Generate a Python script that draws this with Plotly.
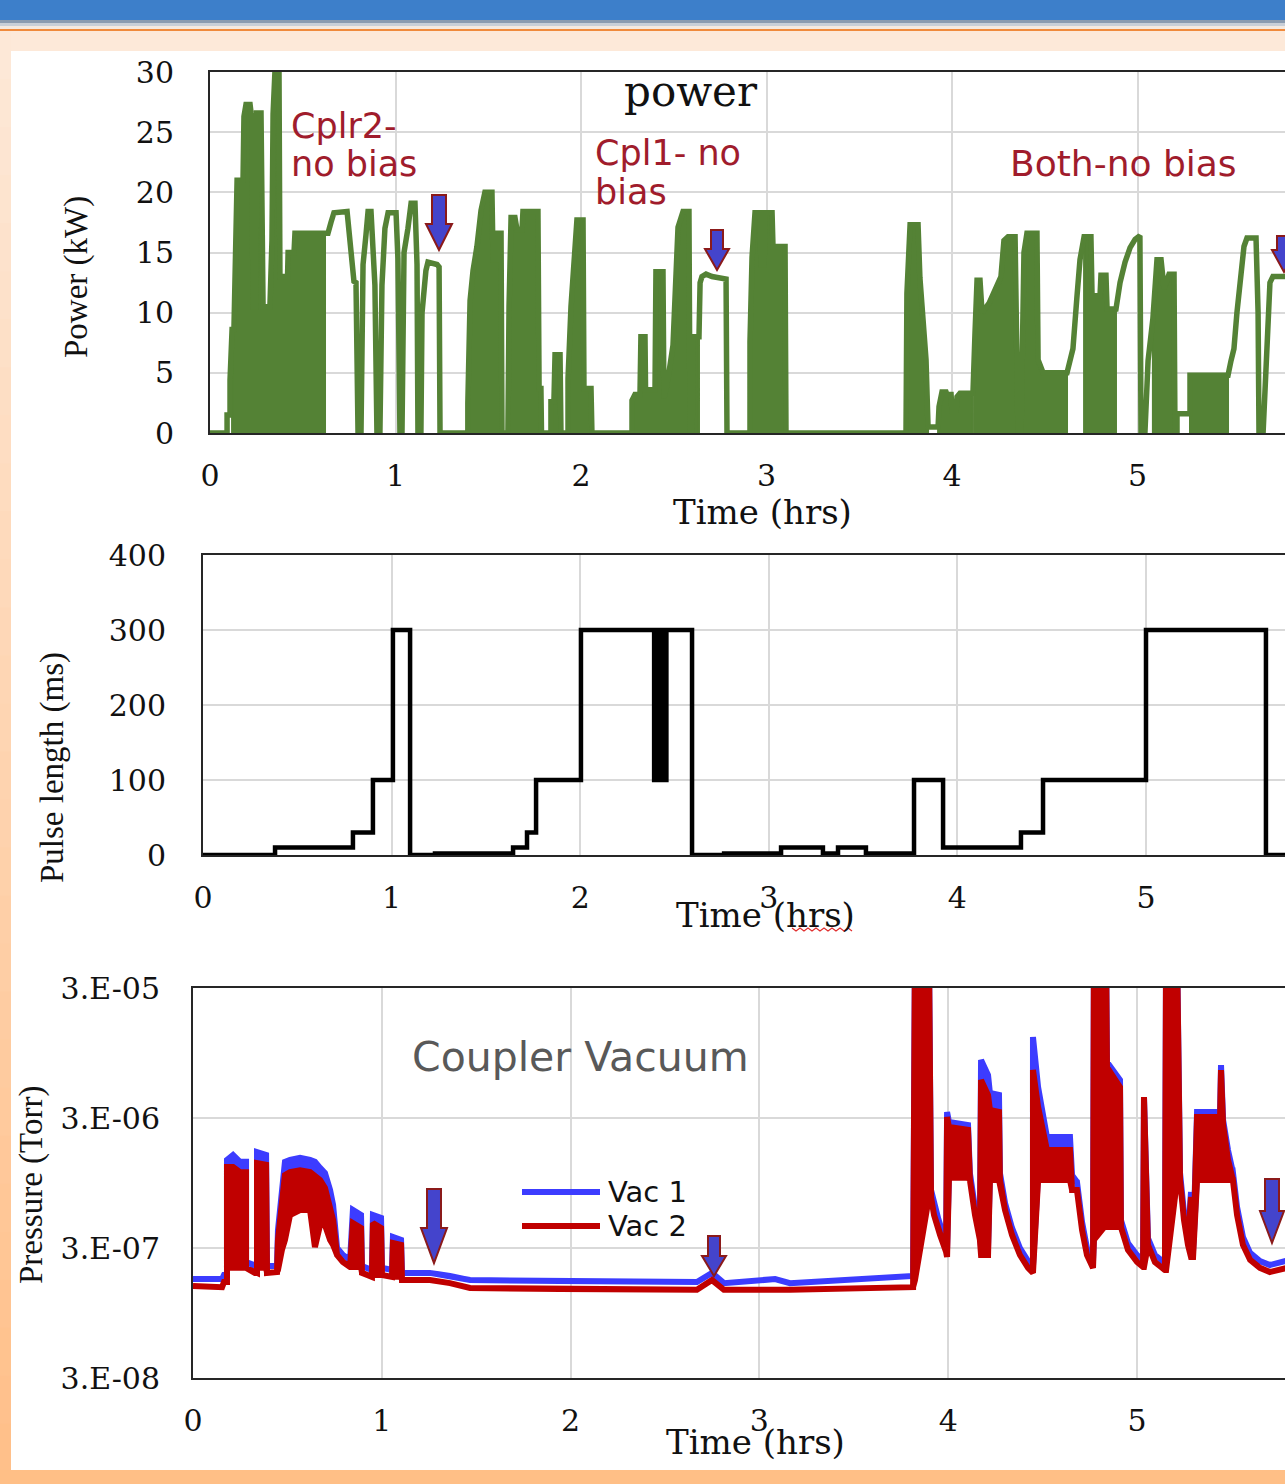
import math
import plotly.graph_objects as go

W, H = 1285, 1484

# ---------------- data ----------------
hour_ticks = [0, 1, 2, 3, 4, 5]

# Power (kW) vs time (hrs): outline of the trace, in runs
power_run1 = [(0.000, 0), (0.092, 0), (0.092, 1.5), (0.108, 1.5), (0.108, 4.4), (0.119, 8.6), (0.129, 8.6),
              (0.135, 15.5), (0.146, 21.0), (0.178, 21.0), (0.183, 26.3), (0.194, 27.3), (0.216, 27.3),
              (0.226, 26.0), (0.232, 10.5), (0.248, 10.5), (0.251, 26.6), (0.275, 26.6), (0.286, 10.5),
              (0.323, 10.5), (0.334, 16.0), (0.340, 26.5), (0.350, 30.0), (0.372, 30.0), (0.377, 13.0),
              (0.410, 13.0), (0.418, 13.0), (0.421, 15.0), (0.453, 15.0), (0.458, 16.6), (0.620, 16.6),
              (0.636, 16.6), (0.652, 17.5), (0.668, 18.3), (0.739, 18.4), (0.755, 16.0), (0.765, 14.5),
              (0.776, 12.6), (0.787, 12.5), (0.798, 0), (0.814, 0), (0.825, 14.0), (0.841, 16.5),
              (0.852, 18.4), (0.868, 18.4), (0.879, 15.0), (0.889, 12.3), (0.900, 0), (0.916, 0),
              (0.927, 12.3), (0.943, 17.0), (0.960, 18.3), (1.003, 18.3), (1.013, 14.5), (1.024, 0),
              (1.035, 0), (1.046, 15.0), (1.067, 17.0), (1.084, 19.1), (1.105, 19.1), (1.116, 14.0),
              (1.121, 0), (1.137, 0), (1.143, 10.0), (1.154, 12.6), (1.164, 13.5), (1.175, 14.2),
              (1.224, 14.0), (1.235, 13.8), (1.240, 0)]
power_run2 = [(1.390, 0), (1.390, 2.5), (1.402, 11.0), (1.418, 13.5), (1.439, 15.5), (1.461, 18.5),
              (1.482, 20.0), (1.520, 20.0), (1.526, 14.4), (1.542, 14.4), (1.547, 16.6), (1.569, 16.6),
              (1.574, 0), (1.606, 0), (1.612, 10.5), (1.623, 17.9), (1.644, 17.9), (1.655, 16.9),
              (1.682, 16.9), (1.687, 18.4), (1.768, 18.4), (1.774, 3.7), (1.784, 3.7), (1.787, 0),
              (1.838, 0), (1.838, 2.6), (1.854, 2.6), (1.860, 6.5), (1.887, 6.5), (1.892, 0),
              (1.930, 0), (1.930, 4.5), (1.946, 10.5), (1.968, 16.3), (1.978, 17.7), (2.011, 17.7),
              (2.016, 3.7), (2.054, 3.7), (2.059, 0)]
power_run3 = [(2.275, 0), (2.275, 2.7), (2.291, 3.2), (2.318, 3.2), (2.323, 8.0), (2.345, 8.0),
              (2.348, 3.6), (2.399, 3.6), (2.404, 13.4), (2.442, 13.4), (2.447, 2.9), (2.469, 4.5),
              (2.496, 7.3), (2.512, 15.0), (2.523, 17.1), (2.550, 18.4), (2.582, 18.4), (2.588, 0),
              (2.599, 0), (2.604, 8.0), (2.636, 8.0), (2.642, 12.5), (2.652, 13.0), (2.674, 13.2),
              (2.706, 13.0), (2.782, 12.8), (2.787, 0), (2.911, 0), (2.911, 7.6), (2.922, 14.6),
              (2.938, 18.3), (2.965, 18.3), (2.970, 14.0), (2.987, 14.0), (2.992, 18.3), (3.030, 18.3),
              (3.035, 15.5), (3.100, 15.5), (3.105, 0)]
power_run4 = [(3.752, 0), (3.752, 2.6), (3.757, 11.6), (3.774, 17.3), (3.817, 17.3), (3.827, 12.9),
              (3.844, 8.5), (3.860, 6.1), (3.871, 0.5), (3.925, 0.5), (3.930, 2.2), (3.946, 3.4),
              (3.968, 3.4), (3.973, 3.2), (3.995, 3.2), (4.000, 1.8), (4.022, 1.8), (4.027, 3.0),
              (4.043, 3.3), (4.113, 3.3), (4.124, 8.3), (4.135, 12.7), (4.151, 12.7), (4.162, 10.0),
              (4.200, 10.8), (4.264, 13.0), (4.280, 16.0), (4.302, 16.3), (4.340, 16.3), (4.345, 9.0),
              (4.356, 0), (4.372, 0), (4.377, 8.5), (4.388, 15.0), (4.404, 16.6), (4.458, 16.6),
              (4.464, 6.1), (4.491, 5.0), (4.620, 5.0)]
power_run5 = [(4.625, 5.3), (4.652, 7.0), (4.674, 11.4), (4.690, 14.4), (4.712, 16.3), (4.749, 16.3),
              (4.755, 11.4), (4.798, 11.4), (4.803, 13.1), (4.830, 13.1), (4.836, 10.3), (4.884, 10.3),
              (4.906, 12.5), (4.933, 14.2), (4.960, 15.4), (4.987, 16.1), (5.013, 16.4), (5.019, 0),
              (5.040, 0), (5.057, 6.0), (5.083, 9.5), (5.105, 14.4), (5.127, 14.4), (5.143, 12.0),
              (5.170, 13.2), (5.197, 13.2), (5.202, 0), (5.213, 0), (5.213, 1.6), (5.283, 1.6),
              (5.283, 4.8), (5.488, 4.8), (5.504, 6.0), (5.520, 7.0), (5.536, 10.0), (5.553, 13.0),
              (5.574, 15.5), (5.590, 16.2), (5.639, 16.2), (5.650, 10.0), (5.655, 0), (5.677, 0),
              (5.687, 3.0), (5.704, 8.0), (5.714, 12.5), (5.730, 13.0), (5.820, 13.0)]
# time spans where the power trace pulses so fast that it reads as solid
power_dense_spans = [(0.119, 0.620), (1.390, 1.574), (1.606, 1.787), (1.838, 1.892), (1.930, 2.059),
                     (2.275, 2.636), (2.911, 3.105), (3.752, 3.871), (3.925, 4.113), (4.124, 4.345),
                     (4.372, 4.620), (4.712, 4.884), (5.083, 5.202), (5.283, 5.488)]
power_yticks = [0, 5, 10, 15, 20, 25, 30]

# Pulse length (ms): step values starting at each time
pulse_t = [0.000, 0.382, 0.795, 0.901, 1.007, 1.098, 1.230, 1.644, 1.718, 1.766, 2.004, 2.392, 2.405,
           2.418, 2.431, 2.444, 2.457, 2.593, 2.763, 3.065, 3.287, 3.367, 3.515, 3.770, 3.924, 4.337,
           4.454, 5.000, 5.636, 5.800]
pulse_ms = [0, 10, 30, 100, 300, 0, 2, 10, 30, 100, 300, 100, 300, 100, 300, 100, 300, 0, 2, 10, 2, 10,
            2, 100, 10, 30, 100, 300, 0, 0]
pulse_yticks = [0, 100, 200, 300, 400]

# Coupler vacuum (Torr): (time, Vac2 high, Vac2 low, Vac1 high, Vac1 low) envelopes
vac_early = [
    (0.000, 1.53e-7, 1.53e-7, 1.73e-7, 1.73e-7), (0.154, 1.50e-7, 1.50e-7, 1.73e-7, 1.73e-7),
    (0.164, 1.64e-7, 1.64e-7, 1.86e-7, 1.86e-7), (0.180, 1.64e-7, 1.64e-7, 1.86e-7, 1.86e-7),
    (0.180, 1.26e-6, 2.11e-7, 1.43e-6, 2.34e-7), (0.212, 1.26e-6, 2.11e-7, 1.56e-6, 2.34e-7),
    (0.249, 1.15e-6, 2.11e-7, 1.38e-6, 2.34e-7), (0.281, 1.15e-6, 2.11e-7, 1.38e-6, 2.34e-7),
    (0.281, 2.11e-7, 2.11e-7, 2.34e-7, 2.34e-7), (0.328, 1.93e-7, 1.93e-7, 2.18e-7, 2.18e-7),
    (0.339, 1.93e-7, 1.93e-7, 2.18e-7, 2.18e-7), (0.339, 1.35e-6, 2.11e-7, 1.64e-6, 2.34e-7),
    (0.387, 1.31e-6, 2.11e-7, 1.56e-6, 2.34e-7), (0.392, 1.93e-7, 1.93e-7, 2.18e-7, 2.18e-7),
    (0.445, 1.96e-7, 1.96e-7, 2.18e-7, 2.18e-7), (0.450, 3.46e-7, 2.03e-7, 4.12e-7, 2.34e-7),
    (0.471, 7.02e-7, 2.90e-7, 9.16e-7, 3.17e-7), (0.487, 1.09e-6, 3.46e-7, 1.38e-6, 3.78e-7),
    (0.514, 1.15e-6, 5.38e-7, 1.43e-6, 5.88e-7), (0.567, 1.19e-6, 5.88e-7, 1.48e-6, 6.42e-7),
    (0.620, 1.15e-6, 5.88e-7, 1.43e-6, 6.42e-7), (0.646, 1.09e-6, 3.05e-7, 1.38e-6, 3.46e-7),
    (0.673, 1.00e-6, 4.51e-7, 1.24e-6, 4.92e-7), (0.699, 8.68e-7, 4.51e-7, 1.13e-6, 4.92e-7),
    (0.726, 6.42e-7, 3.46e-7, 8.38e-7, 3.78e-7), (0.742, 4.92e-7, 3.17e-7, 6.42e-7, 3.46e-7),
    (0.763, 2.65e-7, 2.65e-7, 3.00e-7, 3.00e-7), (0.794, 2.34e-7, 2.34e-7, 2.65e-7, 2.65e-7),
    (0.832, 2.14e-7, 2.14e-7, 2.43e-7, 2.43e-7), (0.847, 4.67e-7, 2.14e-7, 5.88e-7, 2.43e-7),
    (0.890, 4.28e-7, 2.14e-7, 5.38e-7, 2.43e-7), (0.895, 1.93e-7, 1.93e-7, 2.18e-7, 2.18e-7),
    (0.948, 1.80e-7, 1.80e-7, 2.03e-7, 2.03e-7), (0.953, 4.67e-7, 1.86e-7, 5.38e-7, 2.11e-7),
    (0.996, 4.28e-7, 1.86e-7, 5.11e-7, 2.11e-7), (1.001, 1.86e-7, 1.86e-7, 2.11e-7, 2.11e-7),
    (1.054, 1.80e-7, 1.80e-7, 2.03e-7, 2.03e-7), (1.059, 3.28e-7, 1.80e-7, 3.65e-7, 2.03e-7),
    (1.102, 3.17e-7, 1.80e-7, 3.46e-7, 2.03e-7), (1.107, 1.70e-7, 1.70e-7, 1.93e-7, 1.93e-7),
]
vac_quiet = [
    (1.255, 1.70e-7, 1.70e-7, 1.93e-7, 1.93e-7), (1.361, 1.61e-7, 1.61e-7, 1.83e-7, 1.83e-7),
    (1.467, 1.48e-7, 1.48e-7, 1.70e-7, 1.70e-7), (1.944, 1.45e-7, 1.45e-7, 1.67e-7, 1.67e-7),
    (2.669, 1.43e-7, 1.43e-7, 1.64e-7, 1.64e-7), (2.749, 1.70e-7, 1.70e-7, 1.93e-7, 1.93e-7),
    (2.812, 1.43e-7, 1.43e-7, 1.61e-7, 1.61e-7), (3.083, 1.43e-7, 1.43e-7, 1.73e-7, 1.73e-7),
    (3.162, 1.43e-7, 1.43e-7, 1.61e-7, 1.61e-7), (3.814, 1.50e-7, 1.50e-7, 1.83e-7, 1.83e-7),
]
vac_late = [
    (3.824, 6e-5, 1.70e-7, 6e-5, 1.93e-7), (3.898, 6e-5, 7.40e-7, 6e-5, 8.38e-7),
    (3.909, 7.40e-7, 7.40e-7, 8.38e-7, 8.38e-7), (3.925, 5.38e-7, 5.38e-7, 6.42e-7, 6.42e-7),
    (3.957, 3.78e-7, 3.78e-7, 4.43e-7, 4.43e-7), (3.989, 2.79e-7, 2.79e-7, 3.22e-7, 3.22e-7),
    (3.994, 3.05e-6, 2.56e-7, 3.34e-6, 3.00e-7), (4.004, 2.56e-6, 1.04e-6, 2.80e-6, 1.13e-6),
    (4.105, 2.43e-6, 1.04e-6, 2.65e-6, 1.13e-6), (4.115, 1.00e-6, 1.00e-6, 1.13e-6, 1.13e-6),
    (4.142, 5.38e-7, 5.38e-7, 6.09e-7, 6.09e-7), (4.168, 3.46e-7, 3.46e-7, 3.91e-7, 3.91e-7),
    (4.174, 5.88e-6, 2.65e-7, 8.38e-6, 3.00e-7), (4.211, 4.51e-6, 2.65e-7, 6.42e-6, 3.00e-7),
    (4.221, 3.46e-6, 1.00e-6, 4.67e-6, 1.09e-6), (4.269, 3.34e-6, 1.00e-6, 4.51e-6, 1.09e-6),
    (4.274, 1.00e-6, 1.00e-6, 1.13e-6, 1.13e-6), (4.301, 5.88e-7, 5.88e-7, 6.66e-7, 6.66e-7),
    (4.338, 3.78e-7, 3.78e-7, 4.28e-7, 4.28e-7), (4.380, 2.65e-7, 2.65e-7, 3.00e-7, 3.00e-7),
    (4.423, 2.11e-7, 2.11e-7, 2.38e-7, 2.38e-7), (4.449, 1.93e-7, 1.93e-7, 2.18e-7, 2.18e-7),
    (4.449, 7.02e-6, 1.93e-7, 1.26e-5, 2.18e-7), (4.476, 3.65e-6, 1.00e-6, 5.19e-6, 1.09e-6),
    (4.523, 1.70e-6, 1.00e-6, 2.14e-6, 1.09e-6), (4.645, 1.70e-6, 1.00e-6, 2.14e-6, 1.09e-6),
    (4.656, 8.38e-7, 8.38e-7, 1.09e-6, 1.00e-6), (4.682, 8.38e-7, 8.38e-7, 9.66e-7, 9.66e-7),
    (4.709, 4.12e-7, 4.12e-7, 4.75e-7, 4.75e-7), (4.735, 2.65e-7, 2.65e-7, 3.00e-7, 3.00e-7),
    (4.767, 2.11e-7, 2.11e-7, 2.38e-7, 2.38e-7), (4.772, 6e-5, 3.46e-7, 6e-5, 3.78e-7),
    (4.836, 6e-5, 4.51e-7, 6e-5, 4.92e-7), (4.841, 7.40e-6, 4.35e-7, 8.10e-6, 4.75e-7),
    (4.910, 5.19e-6, 4.35e-7, 5.88e-6, 4.75e-7), (4.915, 4.35e-7, 4.35e-7, 4.92e-7, 4.92e-7),
    (4.952, 2.90e-7, 2.90e-7, 3.28e-7, 3.28e-7), (5.000, 2.34e-7, 2.34e-7, 2.65e-7, 2.65e-7),
    (5.032, 2.14e-7, 2.14e-7, 2.43e-7, 2.43e-7), (5.037, 4.35e-6, 2.14e-7, 4.35e-6, 2.43e-7),
    (5.058, 3.17e-7, 3.17e-7, 3.58e-7, 3.58e-7), (5.095, 2.34e-7, 2.34e-7, 2.65e-7, 2.65e-7),
    (5.148, 2.03e-7, 2.03e-7, 2.30e-7, 2.30e-7), (5.154, 6e-5, 2.03e-7, 6e-5, 2.30e-7),
    (5.212, 6e-5, 1.00e-6, 6e-5, 1.09e-6), (5.217, 1.35e-5, 1.00e-6, 1.43e-5, 1.09e-6),
    (5.228, 1.00e-6, 1.00e-6, 1.13e-6, 1.13e-6), (5.249, 4.92e-7, 4.92e-7, 5.58e-7, 5.58e-7),
    (5.270, 3.17e-7, 3.17e-7, 3.58e-7, 3.58e-7), (5.286, 7.40e-7, 2.56e-7, 8.09e-7, 2.90e-7),
    (5.297, 2.56e-7, 2.56e-7, 2.90e-7, 2.90e-7), (5.318, 3.05e-6, 1.00e-6, 3.34e-6, 1.09e-6),
    (5.440, 3.05e-6, 1.00e-6, 3.34e-6, 1.09e-6), (5.445, 7.02e-6, 1.00e-6, 7.67e-6, 1.09e-6),
    (5.456, 2.65e-6, 1.00e-6, 2.90e-6, 1.09e-6), (5.482, 1.43e-6, 1.00e-6, 1.70e-6, 1.09e-6),
    (5.508, 1.00e-6, 1.00e-6, 1.15e-6, 1.15e-6), (5.530, 5.38e-7, 5.38e-7, 6.20e-7, 6.20e-7),
    (5.561, 3.17e-7, 3.17e-7, 3.65e-7, 3.65e-7), (5.599, 2.43e-7, 2.43e-7, 2.75e-7, 2.75e-7),
    (5.651, 2.11e-7, 2.11e-7, 2.38e-7, 2.38e-7), (5.704, 1.96e-7, 1.96e-7, 2.22e-7, 2.22e-7),
    (5.773, 2.11e-7, 2.11e-7, 2.38e-7, 2.38e-7), (5.810, 2.14e-7, 2.14e-7, 2.43e-7, 2.43e-7),
]
vac_yticks = [3e-8, 3e-7, 3e-6, 3e-5]
vac_yticktext = ["3.E-08", "3.E-07", "3.E-06", "3.E-05"]

# ---------------- helpers ----------------
def px(x):
    return x / W


def py(y):
    return 1 - y / H


GREEN = "#548235"
BLUE = "#3c3cff"
RED = "#c00000"
GRID = "#d9d9d9"
AXIS = "#262626"
DARKRED = "#a01c2c"
SERIF = "DejaVu Serif"
TNR = "Liberation Serif"
SANS = "DejaVu Sans"

fig = go.Figure()

# ---- power ----
power_pts = power_run1 + power_run2 + power_run3 + power_run4 + power_run5
for t0, t1 in power_dense_spans:
    seg = [(t, p) for t, p in power_pts if t0 <= t <= t1]
    xs = [t0] + [s[0] for s in seg] + [t1]
    ys = [0] + [s[1] for s in seg] + [0]
    fig.add_trace(go.Scatter(x=xs, y=ys, mode="lines", fill="toself", fillcolor=GREEN,
                             line=dict(color=GREEN, width=2), xaxis="x", yaxis="y",
                             showlegend=False, hoverinfo="skip"))
fig.add_trace(go.Scatter(x=[p[0] for p in power_pts], y=[p[1] for p in power_pts], mode="lines",
                         name="Power", line=dict(color=GREEN, width=5.5), xaxis="x", yaxis="y",
                         showlegend=False))

# ---- pulse length ----
fig.add_trace(go.Scatter(x=pulse_t, y=pulse_ms, mode="lines", name="Pulse length",
                         line=dict(color="black", width=4.5, shape="hv"), xaxis="x2", yaxis="y2",
                         showlegend=False))

# ---- vacuum ----
vac_rows = vac_early + vac_quiet + vac_late
vt = [r[0] for r in vac_rows]


def band(hi_i, lo_i):
    hi = [r[hi_i] for r in vac_rows]
    lo = [r[lo_i] for r in vac_rows]
    return vt + vt[::-1], hi + lo[::-1]


bx, by = band(3, 4)
fig.add_trace(go.Scatter(x=bx, y=by, mode="lines", fill="toself", fillcolor=BLUE, name="Vac 1",
                         line=dict(color=BLUE, width=6), xaxis="x3", yaxis="y3", showlegend=False))
rx, ry = band(1, 2)
fig.add_trace(go.Scatter(x=rx, y=ry, mode="lines", fill="toself", fillcolor=RED, name="Vac 2",
                         line=dict(color=RED, width=6), xaxis="x3", yaxis="y3", showlegend=False))

# ---------------- axes ----------------
tickfont = dict(family=SERIF, size=30, color="#111111")


def xax(left_px, span_hrs, anchor):
    return dict(domain=[px(left_px), 1], range=[0, span_hrs], anchor=anchor, tickvals=hour_ticks,
                showgrid=True, gridcolor=GRID, gridwidth=1.5, showline=True, linecolor=AXIS,
                linewidth=2, mirror=True, zeroline=False, ticks="", tickfont=tickfont,
                ticklabelstandoff=15, automargin=False)


def yax(top_px, bot_px, anchor, **kw):
    d = dict(domain=[py(bot_px), py(top_px)], anchor=anchor, showgrid=True, gridcolor=GRID,
             gridwidth=1.5, showline=True, linecolor=AXIS, linewidth=2, mirror=False,
             zeroline=False, ticks="", tickfont=tickfont, ticklabelstandoff=28, automargin=False)
    d.update(kw)
    return d


fig.update_layout(
    width=W, height=H, margin=dict(l=0, r=0, t=0, b=0, pad=0, autoexpand=False),
    paper_bgcolor="#fde9d9", plot_bgcolor="rgba(0,0,0,0)", showlegend=False,
    xaxis=xax(210, (W - 210) / 185.5, "y"),
    yaxis=yax(72, 433, "x", range=[0, 30], tickvals=power_yticks),
    xaxis2=xax(203, (W - 203) / 188.6, "y2"),
    yaxis2=yax(555, 855, "x2", range=[0, 400], tickvals=pulse_yticks, ticklabelstandoff=29),
    xaxis3=xax(193, (W - 193) / 188.8, "y3"),
    yaxis3=yax(988, 1378, "x3", type="log", range=[math.log10(3e-8), math.log10(3e-5)],
               tickvals=vac_yticks, ticktext=vac_yticktext, ticklabelstandoff=25),
)

# ---------------- background shapes ----------------
shapes = []


def rect(x0, y0, x1, y1, color, layer="below"):
    shapes.append(dict(type="rect", xref="paper", yref="paper", x0=px(x0), x1=px(x1), y0=py(y1),
                       y1=py(y0), fillcolor=color, line=dict(width=0), layer=layer))


def lerp_col(c0, c1, f):
    a = [int(c0[i:i + 2], 16) for i in (1, 3, 5)]
    b = [int(c1[i:i + 2], 16) for i in (1, 3, 5)]
    return "#" + "".join(f"{int(round(a[k] + (b[k] - a[k]) * f)):02x}" for k in range(3))


rect(0, 0, W, 20, "#3d7fca")
rect(0, 20, W, 23, "#8a9bb0")
rect(0, 23, W, 26, "#c8cfd8")
rect(0, 26, W, 29, "#f4e9e0")
rect(0, 29, W, 31, "#f08a3c")
n = 30
for i in range(n):
    y0 = 31 + (1472 - 31) * i / n
    y1 = 31 + (1472 - 31) * (i + 1) / n
    rect(0, y0, 11, y1 + 1, lerp_col("#fde8d7", "#ffc08a", i / (n - 1)))
rect(0, 1470, W, H, "#ffbf86")
rect(11, 51, W, 1470, "#ffffff")


def block_arrow(cx, top, neck, tip, sw, hw):
    pts = [(cx - sw, top), (cx + sw, top), (cx + sw, neck), (cx + hw, neck), (cx, tip),
           (cx - hw, neck), (cx - sw, neck)]
    path = "M " + " L ".join(f"{px(x):.5f},{py(y):.5f}" for x, y in pts) + " Z"
    shapes.append(dict(type="path", xref="paper", yref="paper", path=path, fillcolor="#4444cc",
                       line=dict(color="#8b1a1a", width=2), layer="above"))


block_arrow(439, 195, 224, 250, 7, 13)
block_arrow(717, 230, 249, 270, 6, 12)
block_arrow(1284, 236, 250, 272, 7, 12)
block_arrow(434, 1189, 1228, 1263, 7, 13)
block_arrow(714, 1236, 1256, 1276, 6, 12)
block_arrow(1272, 1179, 1211, 1243, 7, 12)

# manual legend line samples
for yy, col in ((1192, BLUE), (1226, RED)):
    shapes.append(dict(type="line", xref="paper", yref="paper", x0=px(522), x1=px(600), y0=py(yy),
                       y1=py(yy), line=dict(color=col, width=6), layer="above"))

# spell-check squiggle under "hrs" of the middle axis title
sq = [(792 + 4 * i, 929 + (2 if i % 2 else -1)) for i in range(16)]
shapes.append(dict(type="path", xref="paper", yref="paper",
                   path="M " + " L ".join(f"{px(x):.5f},{py(y):.5f}" for x, y in sq),
                   line=dict(color="#e03030", width=1.2), layer="above"))

fig.update_layout(shapes=shapes)

# ---------------- text ----------------
ann = []


def text(s, x, y, size, family, color="#111111", xanchor="center", angle=0):
    ann.append(dict(text=s, x=px(x), y=py(y), xref="paper", yref="paper", showarrow=False,
                    xanchor=xanchor, yanchor="middle", textangle=angle,
                    font=dict(size=size, family=family, color=color)))


text("power", 691, 92, 42, SERIF)
text("Cplr2-", 289, 126, 35, SANS, DARKRED, "left")
text("no bias", 289, 164, 35, SANS, DARKRED, "left")
text("Cpl1- no", 593, 153, 35, SANS, DARKRED, "left")
text("bias", 593, 192, 35, SANS, DARKRED, "left")
text("Both-no bias", 1008, 163, 36, SANS, DARKRED, "left")
text("Time (hrs)", 762, 512, 34, SERIF)
text("Power (kW)", 76, 277, 33, TNR, angle=-90)
text("Time (hrs)", 765, 915, 34, SERIF)
text("Pulse length (ms)", 52, 768, 33, TNR, angle=-90)
text("Time (hrs)", 755, 1442, 34, SERIF)
text("Pressure (Torr)", 31, 1185, 33, TNR, angle=-90)
text("Coupler Vacuum", 580, 1057, 41, SANS, "#595959")
text("Vac 1", 606, 1192, 29, SANS, "#111111", "left")
text("Vac 2", 606, 1226, 29, SANS, "#111111", "left")
fig.update_layout(annotations=ann)

fig.write_html("out.html", config={"displayModeBar": False},
               post_script="document.body.style.margin='0';document.body.style.overflow='hidden';")
